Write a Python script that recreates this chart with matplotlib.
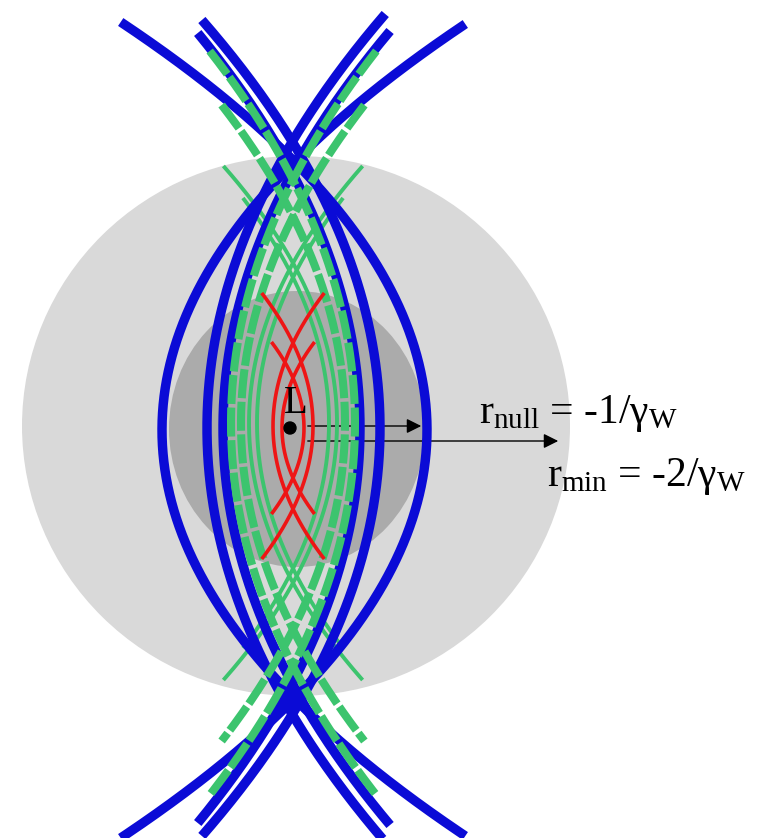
import numpy as np
import matplotlib
matplotlib.use("Agg")
import matplotlib.pyplot as plt
from matplotlib.patches import Ellipse, Circle

plt.rcParams['mathtext.fontset'] = 'custom'
plt.rcParams['mathtext.rm'] = 'Liberation Serif'
plt.rcParams['mathtext.it'] = 'Liberation Serif:italic'
plt.rcParams['font.family'] = ['Liberation Serif', 'DejaVu Serif']

W, H = 758, 838
CX = 293  # common symmetry axis (px)

# ---- curve families: side (-1 bulges left, +1 bulges right), bulge offset, curvature, centre y, half length
blue_side = [-1, 1, -1, 1, -1, 1]
blue_bulge = [131, 134, 86, 87, 70, 67]
blue_curv = [0.00184, 0.00184, 0.00104, 0.00107, 0.00106, 0.00104]
blue_yc = [430, 430, 428, 428, 428, 428]
blue_half = [406, 408, 414, 408, 397, 395]

green_dash_side = [-1, 1, -1, 1]
green_dash_bulge = [62, 62, 52, 52]
green_dash_curv = [0.00105, 0.00105, 0.00122, 0.00122]
green_dash_yc = [423, 423, 423, 423]
green_dash_half = [372, 372, 318, 318]

green_thin_side = [1, -1, 1, -1]
green_thin_bulge = [44, 44, 36, 36]
green_thin_curv = [0.00172, 0.00172, 0.00170, 0.00170]
green_thin_yc = [423, 423, 423, 423]
green_thin_half = [257, 257, 225, 225]

red_side = [1, -1, 1, -1]
red_bulge = [20, 20, 11, 11]
red_curv = [0.0029, 0.0029, 0.0044, 0.0044]
red_yc = [426, 426, 428, 428]
red_half = [133, 133, 86, 86]

# discs: centre x, centre y, width, height
outer_disc = (296, 426, 548, 540)
inner_disc = (297, 429, 256, 276)

label_null = r'r$_{\mathrm{null}}$ = -1/γ$_{\mathrm{W}}$'
label_min = r'r$_{\mathrm{min}}$ = -2/γ$_{\mathrm{W}}$'

fig = plt.figure(figsize=(W / 100, H / 100), dpi=100)
ax = fig.add_axes([0, 0, 1, 1])
ax.set_xlim(0, W)
ax.set_ylim(H, 0)
ax.axis('off')

ax.add_patch(Ellipse(outer_disc[:2], outer_disc[2], outer_disc[3], color='#d9d9d9', lw=0, zorder=1))
ax.add_patch(Ellipse(inner_disc[:2], inner_disc[2], inner_disc[3], color='#ababab', lw=0, zorder=2))


def draw_family(sides, bulges, curvs, ycs, halves, **kw):
    for s, b, k, yc, h in zip(sides, bulges, curvs, ycs, halves):
        y = np.linspace(yc - h, yc + h, 400)
        x = CX + s * (b - k * (y - yc) ** 2)
        ax.plot(x, y, **kw)


# arrows (beneath curves)
ax.annotate('', xy=(424, 426), xytext=(305, 426),
            arrowprops=dict(arrowstyle='-|>', color='black', lw=1.0, mutation_scale=22), zorder=3)
ax.annotate('', xy=(561, 441), xytext=(305, 441),
            arrowprops=dict(arrowstyle='-|>', color='black', lw=1.0, mutation_scale=22), zorder=3)

draw_family(green_thin_side, green_thin_bulge, green_thin_curv, green_thin_yc, green_thin_half,
            color='#3cc46e', lw=2.8, zorder=4, solid_capstyle='butt')
draw_family(blue_side, blue_bulge, blue_curv, blue_yc, blue_half,
            color='#0b0bd6', lw=6.8, zorder=5, solid_capstyle='butt')
draw_family(green_dash_side, green_dash_bulge, green_dash_curv, green_dash_yc, green_dash_half,
            color='#3cc46e', lw=5.8, zorder=6, linestyle=(0, (3.6, 0.45)), dash_capstyle='butt')
draw_family(red_side, red_bulge, red_curv, red_yc, red_half,
            color='#ee1515', lw=2.6, zorder=7, solid_capstyle='butt')

ax.add_patch(Circle((290, 428), 6, color='black', zorder=8))
ax.text(296, 413, 'L', fontsize=28, ha='center', va='baseline', zorder=9)

ax.text(479, 423, label_null, fontsize=30, ha='left', va='baseline', zorder=9)
ax.text(547, 486, label_min, fontsize=30, ha='left', va='baseline', zorder=9)

fig.savefig('out.png', dpi=100)
